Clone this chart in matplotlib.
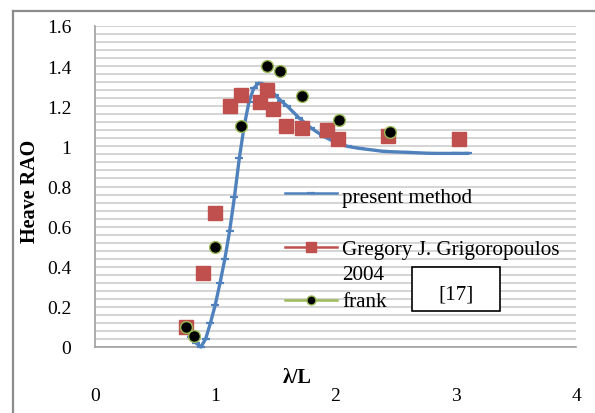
import matplotlib
matplotlib.use("Agg")
import matplotlib.pyplot as plt
from matplotlib.lines import Line2D
from matplotlib.patches import Rectangle

plt.rcParams['font.family'] = ['Liberation Serif', 'DejaVu Serif']

# Heave RAO vs wavelength / ship length
present_x = [0.76, 0.80, 0.84, 0.88, 0.92, 0.96, 1.00, 1.04, 1.08, 1.12, 1.16,
             1.20, 1.24, 1.28, 1.32, 1.36, 1.40, 1.45, 1.50, 1.55, 1.60, 1.70,
             1.80, 1.90, 2.00, 2.10, 2.20, 2.40, 2.60, 2.80, 3.00, 3.10]
present_y = [0.08, 0.05, 0.02, 0.00, 0.04, 0.12, 0.21, 0.32, 0.44, 0.58, 0.75,
             0.94, 1.10, 1.22, 1.29, 1.315, 1.31, 1.285, 1.255, 1.225, 1.20, 1.14,
             1.09, 1.05, 1.02, 1.00, 0.99, 0.975, 0.97, 0.965, 0.965, 0.965]

greg_x = [0.76, 0.90, 1.00, 1.12, 1.21, 1.375, 1.43, 1.48, 1.59, 1.72, 1.93,
          2.02, 2.44, 3.03]
greg_y = [0.10, 0.37, 0.67, 1.20, 1.255, 1.22, 1.28, 1.185, 1.10, 1.09, 1.08,
          1.035, 1.05, 1.035]

frank_x = [0.76, 0.82, 1.00, 1.21, 1.43, 1.535, 1.72, 2.03, 2.45]
frank_y = [0.10, 0.056, 0.50, 1.10, 1.40, 1.375, 1.25, 1.13, 1.07]

x_ticks = [0, 1, 2, 3, 4]
y_ticks = [0, 0.2, 0.4, 0.6, 0.8, 1.0, 1.2, 1.4, 1.6]
y_tick_labels = ['0', '0.2', '0.4', '0.6', '0.8', '1', '1.2', '1.4', '1.6']

labels = ['present method', 'Gregory J. Grigoropoulos\n2004', 'frank']

BLUE = '#4F81BD'
RED = '#C0504D'
GREEN = '#9BBB59'
GRID = '#D4D4D4'

W, H = 595, 414
fig = plt.figure(figsize=(W / 100, H / 100), dpi=100)


def fx(px):
    return px / W


def fy(py):
    return 1 - py / H


ax = fig.add_axes([fx(95), fy(348), fx(576) - fx(95), fy(27) - fy(348)])
ax.set_xlim(0, 4)
ax.set_ylim(0, 1.6)

ax.set_yticks(y_ticks)
ax.set_yticklabels(y_tick_labels)
ax.set_yticks([i * 0.04 for i in range(41)], minor=True)
ax.set_xticks(x_ticks)
ax.grid(True, axis='y', which='both', color=GRID, lw=1.4, zorder=0)
ax.set_axisbelow(True)
ax.tick_params(axis='both', which='both', length=0)
ax.tick_params(axis='x', labelsize=14, pad=29)
ax.tick_params(axis='y', labelsize=14, pad=17)
for s in ('top', 'right'):
    ax.spines[s].set_visible(False)
for s in ('left', 'bottom'):
    ax.spines[s].set_color('#A0A0A0')
    ax.spines[s].set_linewidth(1.2)

ax.plot(present_x, present_y, color=BLUE, lw=2.4, marker='_', ms=6, mew=1.6,
        zorder=3, clip_on=False)
ax.plot(greg_x, greg_y, ls='none', marker='s', ms=9.5, mfc=RED, mec=RED,
        zorder=4, clip_on=False)
ax.plot(frank_x, frank_y, ls='none', marker='o', ms=8.5, mfc='black', mec=GREEN,
        mew=1.0, zorder=5, clip_on=False)

# axis titles
fig.text(fx(30), fy(191), 'Heave RAO', rotation=90, ha='center', va='center',
         fontsize=14.5, fontweight='bold')
fig.text(fx(297), fy(378), 'λ/L', ha='center', va='center',
         fontsize=14.5, fontweight='bold')

# legend entries: handle sits on the first line of each label
legend_rows = [
    (194, 203, BLUE, dict(marker='_', ms=6, mew=1.6)),
    (248, 255, RED, dict(marker='s', ms=7, mfc=RED, mec=RED)),
    (301, 307, GREEN, dict(marker='o', ms=6.5, mfc='black', mec=GREEN, mew=1.0)),
]
for (ly, by, col, mk), lab in zip(legend_rows, labels):
    fig.add_artist(Line2D([fx(285), fx(337)], [fy(ly), fy(ly)], color=col,
                          lw=1.8, transform=fig.transFigure))
    fig.add_artist(Line2D([fx(311)], [fy(ly)], color=col, lw=0,
                          transform=fig.transFigure, **mk))
    for k, line in enumerate(lab.split('\n')):
        fig.text(fx(342), fy(by + 25 * k), line, ha='left', va='baseline',
                 fontsize=15.2)

# reference tag box
fig.add_artist(Rectangle((fx(412), fy(312)), fx(500) - fx(412), fy(268) - fy(312),
                         facecolor='white', edgecolor='black', lw=1.2,
                         transform=fig.transFigure, zorder=6))
fig.text(fx(456), fy(300), '[17]', ha='center', va='baseline', fontsize=15.2,
         zorder=7)

# chart border
border = dict(color='#8C8C8C', lw=1.6, transform=fig.transFigure)
fig.add_artist(Line2D([fx(13), fx(13)], [fy(12), 0], **border))
fig.add_artist(Line2D([fx(13), 1], [fy(12), fy(12)], **border))

fig.savefig('out.png', dpi=100)
